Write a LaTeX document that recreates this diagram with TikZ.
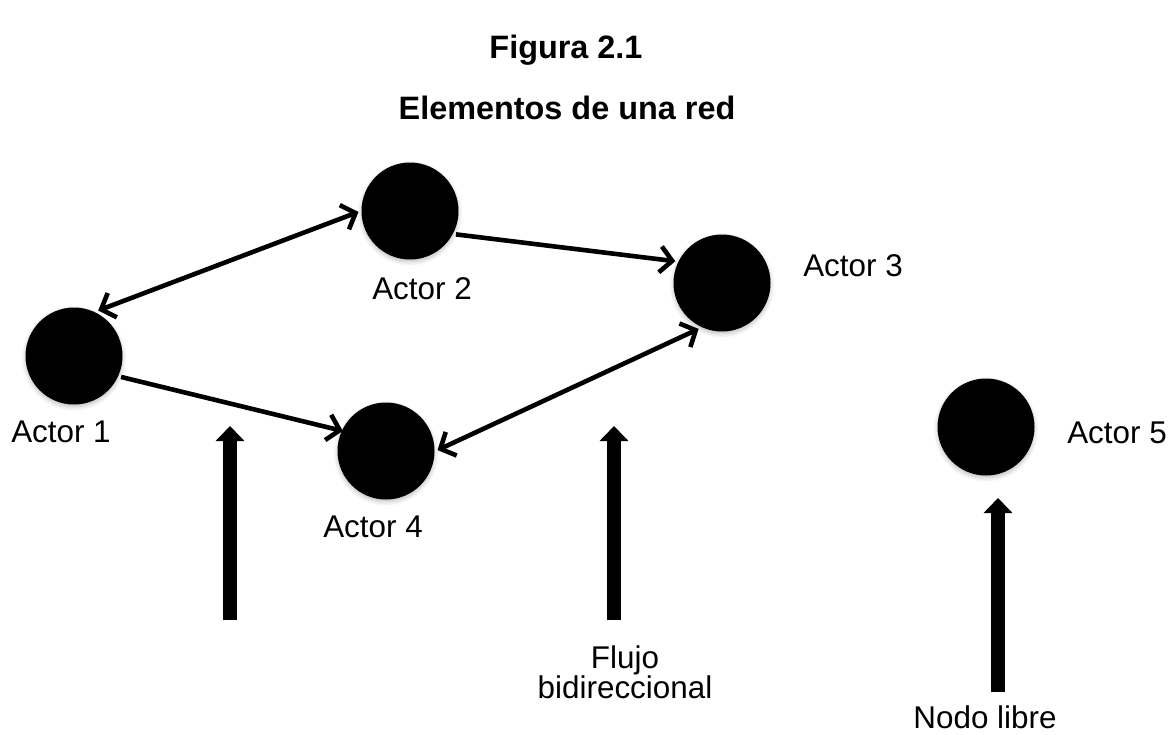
\documentclass[tikz,border=0pt]{standalone}
\usepackage{fontspec}
\setmainfont{Liberation Sans}
\usetikzlibrary{arrows.meta, positioning, shadows.blur}
\tikzset{
    actor/.style={circle, fill=black, minimum size=48.5pt, inner sep=0pt, outer sep=1.5pt,
        blur shadow={shadow xshift=0pt, shadow yshift=-1.2pt, shadow blur steps=5, shadow opacity=25}},
    enlace/.style={line width=2.3pt, -{Straight Barb[length=6pt, width=13pt]}},
    doble/.style={line width=2.3pt, {Straight Barb[length=6pt, width=13pt]}-{Straight Barb[length=6pt, width=13pt]}},
    bloque/.style={line width=7pt, -{Triangle[length=7.5pt, width=14pt]}},
    etiq/.style={font=\fontsize{15.7}{15}\selectfont, inner sep=0pt, align=center},
    titulo/.style={font=\fontsize{16.2}{15}\selectfont\bfseries, inner sep=0pt}
}

\begin{document}
\begin{tikzpicture}[x=0.5pt, y=-0.5pt]
    \useasboundingbox (0,0) rectangle (1170,734);
    % titulo
    \node[titulo] (tit1) at (566,50) {Figura 2.1};
    \node[titulo] (tit2) at (567,108) {Elementos de una red};
    % actores
    \node[actor] (a1) at (74,356) {};
    \node[actor] (a2) at (410,211) {};
    \node[actor] (a3) at (722,283) {};
    \node[actor] (a4) at (386,451) {};
    \node[actor] (a5) at (986,427) {};
    \node[etiq] (e1) at (61,432) {Actor 1};
    \node[etiq] (e2) at (422,289) {Actor 2};
    \node[etiq] (e3) at (853,266) {Actor 3};
    \node[etiq] (e4) at (373,527) {Actor 4};
    \node[etiq] (e5) at (1117,433) {Actor 5};
    % enlaces
    \draw[doble] (a1.62) -- (a2.181);
    \draw[enlace] (a2.-27) -- (a3.155);
    \draw[enlace, shorten >=-2pt] (a1.-24) -- (a4.156);
    \draw[doble] (a4.1) -- (a3.243);
    % flechas
    \coordinate (p1) at (230,620);
    \coordinate (q1) at (230,426);
    \coordinate (p2) at (614,620);
    \coordinate (q2) at (614,426);
    \coordinate (p3) at (998,692);
    \coordinate (q3) at (998,498);
    \draw[bloque] (p1) -- (q1);
    \draw[bloque] (p2) -- (q2);
    \draw[bloque] (p3) -- (q3);
    \node[etiq, anchor=north] (flujo) at (625,645) {Flujo\\bidireccional};
    \node[etiq] (libre) at (985,717) {Nodo libre};
\end{tikzpicture}
\end{document}
